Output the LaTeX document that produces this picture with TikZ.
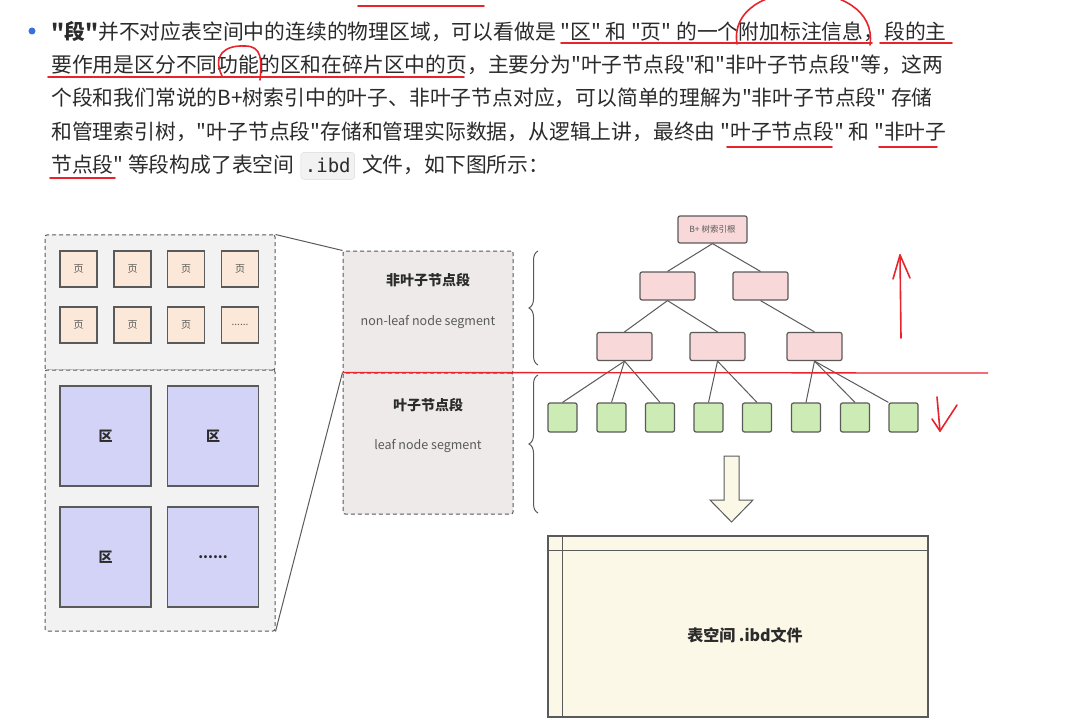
\documentclass[tikz,border=0pt]{standalone}
\usepackage{fontspec}
\setmainfont{Noto Sans CJK SC}[Ligatures=TeXOff]
\setmonofont{DejaVu Sans Mono}
\usetikzlibrary{positioning,decorations.pathreplacing}
\definecolor{txt}{HTML}{2B2B2B}
\definecolor{dot}{HTML}{3A6FE0}
\definecolor{codebg}{HTML}{F2F2F3}
\definecolor{codeline}{HTML}{DADADA}
\definecolor{edge}{HTML}{5A5A5A}
\definecolor{areafill}{HTML}{F2F2F2}
\definecolor{segfill}{HTML}{EEEAE9}
\definecolor{pagefill}{HTML}{FCE8D8}
\definecolor{extfill}{HTML}{D3D3F7}
\definecolor{treefill}{HTML}{F8D8D8}
\definecolor{leaffill}{HTML}{CDEBB4}
\definecolor{cream}{HTML}{FCF8E8}
\definecolor{pen}{HTML}{E8232B}
\tikzset{
  bodytext/.style={
    anchor=base west,
    inner sep=0pt,
    text=txt,
    font=\fontsize{20.8}{25}\selectfont
  },
  codebox/.style={
    draw=codeline,
    fill=codebg,
    rounded corners=3pt,
    text=txt,
    inner xsep=4pt,
    inner ysep=0pt,
    minimum height=27pt,
    font=\ttfamily\fontsize{19}{22}\selectfont
  },
  area/.style={
    draw=edge,
    fill=areafill,
    dash pattern=on 4pt off 3pt,
    line width=1pt,
    rounded corners=2pt,
    inner sep=0pt
  },
  pagebox/.style={
    draw=edge,
    fill=pagefill,
    line width=1.2pt,
    minimum width=37pt,
    minimum height=36pt,
    inner sep=0pt,
    text=edge,
    font=\fontsize{10}{12}\selectfont
  },
  extbox/.style={
    draw=edge,
    fill=extfill,
    line width=1.2pt,
    minimum width=91pt,
    minimum height=100pt,
    inner sep=0pt,
    text=txt,
    font=\bfseries\fontsize{14}{16}\selectfont
  },
  segtitle/.style={text=txt, font=\bfseries\fontsize{14}{16}\selectfont},
  segnote/.style={text=edge, font=\fontsize{12.5}{14}\selectfont},
  treebox/.style={
    draw=edge,
    fill=treefill,
    line width=1.2pt,
    rounded corners=2pt,
    minimum width=55pt,
    minimum height=28pt,
    inner sep=0pt
  },
  leafbox/.style={
    draw=edge,
    fill=leaffill,
    line width=1.2pt,
    rounded corners=2pt,
    minimum width=29pt,
    minimum height=29pt,
    inner sep=0pt
  },
  link/.style={draw=edge, line width=1pt},
  penline/.style={draw=pen, line width=1.6pt, line cap=round, line join=round}
}

\begin{document}
\begin{tikzpicture}[x=1pt,y=-1pt]
  \useasboundingbox[fill=white] (0,0) rectangle (1091,727);
  % paragraph
  \fill[dot] (32,31) circle (3.5);
  \node[bodytext] (line1) at (51,39.5) {{\bfseries"段"}并不对应表空间中的连续的物理区域，可以看做是 "区" 和 "页" 的一个附加标注信息，段的主};
  \node[bodytext] (line2) at (51,72.5) {要作用是区分不同功能的区和在碎片区中的页，主要分为"叶子节点段"和"非叶子节点段"等，这两};
  \node[bodytext] (line3) at (51,106) {个段和我们常说的B+树索引中的叶子、非叶子节点对应，可以简单的理解为"非叶子节点段" 存储};
  \node[bodytext] (line4) at (51,139.5) {和管理索引树，"叶子节点段"存储和管理实际数据，从逻辑上讲，最终由 "叶子节点段" 和 "非叶子};
  \node[bodytext] (line5) at (51,173) {节点段" 等段构成了表空间};
  \node[codebox, base right=6pt of line5] (ibd) {.ibd};
  \node[bodytext, base right=7pt of ibd] (line5b) {文件，如下图所示：};

  % pages and extents
  \node[area, minimum width=230pt, minimum height=135pt] (pagearea) at (160,302.5) {};
  \node[area, minimum width=230pt, minimum height=261pt] (extarea) at (160,500.5) {};
  \foreach \x [count=\i] in {78.5,132.5,186,240} {
    \node[pagebox] (pageA\i) at (\x,269) {页};
  }
  \foreach \x [count=\i] in {78.5,132.5,186} {
    \node[pagebox] (pageB\i) at (\x,325) {页};
  }
  \node[pagebox] (pageB4) at (240,325) {......};
  \node[extbox] (extA1) at (105.5,436) {区};
  \node[extbox] (extA2) at (213,436) {区};
  \node[extbox] (extB1) at (105.5,557) {区};
  \node[extbox] (extB2) at (213,557) {......};

  % segments
  \node[area, fill=segfill, minimum width=170pt, minimum height=122pt] (nonleafseg) at (428,312) {};
  \node[area, fill=segfill, minimum width=170pt, minimum height=141pt] (leafseg) at (428,443.5) {};
  \node[segtitle] (nonleaftitle) at (428,280) {非叶子节点段};
  \node[segnote] (nonleafnote) at (428,322) {non-leaf node segment};
  \node[segtitle] (leaftitle) at (428,405) {叶子节点段};
  \node[segnote] (leafnote) at (428,446) {leaf node segment};
  \draw[link] (pagearea.north east) -- (nonleafseg.north west);
  \draw[link] (extarea.south east) -- (leafseg.north west);

  % braces
  \draw[link, decorate, decoration={brace, amplitude=9pt}] (538,365) -- (538,251);
  \draw[link, decorate, decoration={brace, amplitude=9pt}] (538,513) -- (538,375);

  % B+ tree
  \node[treebox, minimum width=69pt, minimum height=27pt, text=edge, font=\fontsize{8.5}{10}\selectfont] (root) at (712.5,229.5) {B+ 树索引根};
  \node[treebox] (l2a) at (667.5,286) {};
  \node[treebox] (l2b) at (760.5,286) {};
  \node[treebox] (l3a) at (624.5,346.5) {};
  \node[treebox] (l3b) at (717.5,346.5) {};
  \node[treebox] (l3c) at (814.5,346.5) {};
  \foreach \x [count=\i] in {562.5,611.5,660,708.5,757,806,855,903.5} {
    \node[leafbox] (leaf\i) at (\x,417.5) {};
  }
  \foreach \a/\b in {root/l2a,root/l2b,l2a/l3a,l2a/l3b,l2b/l3c,
                     l3a/leaf1,l3a/leaf2,l3a/leaf3,l3b/leaf4,l3b/leaf5,
                     l3c/leaf6,l3c/leaf7} {
    \draw[link] (\a.south) -- (\b.north);
  }
  \draw[link] (l3c.south) -- (leaf8.north west);

  % table space file
  \draw[draw=edge, fill=cream, line width=1pt]
    (724,456) -- (739,456) -- (739,500) -- (753,500) -- (731.5,522)
    -- (710,500) -- (724,500) -- cycle;
  \node[draw=edge, fill=cream, line width=1.2pt, minimum width=380pt, minimum height=181pt, inner sep=0pt] (ibdfile) at (738,626.5) {};
  \draw[link] ([yshift=-15pt]ibdfile.north west) -- ([yshift=-15pt]ibdfile.north east);
  \draw[link] ([xshift=15pt]ibdfile.north west) -- ([xshift=15pt]ibdfile.south west);
  \node[text=txt, font=\bfseries\fontsize{16}{18}\selectfont] (filelabel) at (745,635) {表空间 .ibd文件};

  % red pen marks
  \coordinate (cutend) at (988,373);
  \draw[draw=pen, line width=1.3pt] (leafseg.north west) -- (cutend);
  \draw[penline] (358,6) -- (484,6);
  \draw[penline] (561,43) -- (872,43);
  \draw[penline] (880,43) -- (952,43);
  \draw[penline] (737,44) .. controls (726,-25) and (880,-25) .. (870,45);
  \draw[penline] (48,77) -- (464,77);
  \draw[penline] (222,76) .. controls (212,55) and (225,45) .. (245,46)
    .. controls (262,46) and (262,60) .. (260,80);
  \draw[penline] (727,147) -- (832,147);
  \draw[penline] (879,147) -- (937,147);
  \draw[penline] (50,178) -- (115,178);
  \draw[penline] (901,338) -- (900,255);
  \draw[penline] (893,279) -- (900,255) -- (910,278);
  \draw[penline] (937,397) -- (940,431);
  \draw[penline] (932,419) -- (940,431) -- (957,405);
\end{tikzpicture}
\end{document}
